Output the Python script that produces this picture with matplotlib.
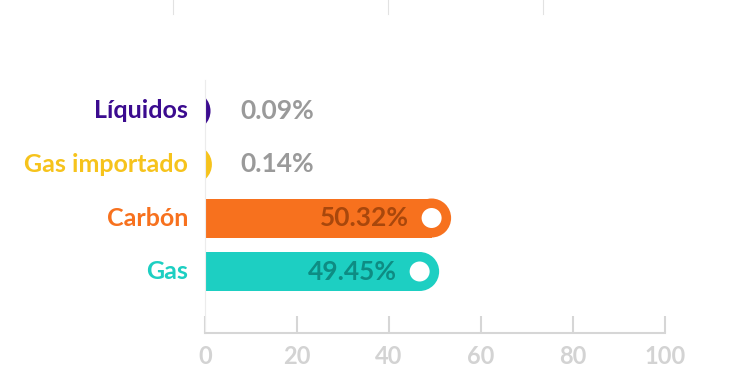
import matplotlib.pyplot as plt
from matplotlib.patches import Ellipse, Rectangle

# Data
categories = ['Líquidos', 'Gas importado', 'Carbón', 'Gas']
shares = [0.09, 0.14, 50.32, 49.45]
# where each rounded bar ends on the 0-100 axis (as drawn)
bar_ends = [1.2, 1.5, 53.5, 50.9]
colors = ['#3b0b8f', '#f6c31c', '#f7711e', '#1dcfc2']
inner_text = ['#9a9a9a', '#9a9a9a', '#a8470c', '#0e8c83']
xticks = [0, 20, 40, 60, 80, 100]

W, H, DPI = 755, 387, 100
X0_PX, X1_PX = 205, 665          # pixel columns of 0 and 100
AX_TOP_PX, AX_BOT_PX = 80, 333   # rows of axes top and baseline
ROW0_PX, ROW_STEP_PX = 111, 53.5
R_PX = 19.5                      # half bar height / cap radius
DOT_R_PX = 10

plt.rcParams['font.family'] = ['Lato', 'DejaVu Sans']

fig = plt.figure(figsize=(W / DPI, H / DPI), dpi=DPI)
ax = fig.add_axes([X0_PX / W, (H - AX_BOT_PX) / H,
                   (X1_PX - X0_PX) / W, (AX_BOT_PX - AX_TOP_PX) / H])

ux = 100 / (X1_PX - X0_PX)       # data units per pixel along x
uy = 1 / ROW_STEP_PX             # data units per pixel along y
ax.set_xlim(0, 100)
ax.set_ylim(3 + (AX_BOT_PX - ROW0_PX - 3 * ROW_STEP_PX) * uy,
            -(ROW0_PX - AX_TOP_PX) * uy)

r_x, r_y = R_PX * ux, R_PX * uy
for i, (cat, share, end) in enumerate(zip(categories, shares, bar_ends)):
    c = end - r_x
    if c > 0:
        ax.add_patch(Rectangle((0, i - r_y), c, 2 * r_y, color=colors[i], lw=0))
    ax.add_patch(Ellipse((c, i), 2 * r_x, 2 * r_y, color=colors[i], lw=0))
    ax.text(-17 * ux, i, cat, ha='right', va='center', fontsize=18,
            fontweight='bold', color=colors[i], clip_on=False)
    label = f'{share:.2f}%'
    if c > 10:
        ax.add_patch(Ellipse((c, i), 2 * DOT_R_PX * ux, 2 * DOT_R_PX * uy,
                             color='white', lw=0))
        ax.annotate(label, (c, i), xytext=(-23 * 0.72, 0),
                    textcoords='offset points', ha='right', va='center',
                    fontsize=19, fontweight='bold', color=inner_text[i])
    else:
        ax.text(35 * ux, i, label, ha='left', va='center', fontsize=19,
                fontweight='bold', color=inner_text[i])

ax.set_xticks(xticks)
ax.set_yticks([])
ax.tick_params(axis='x', direction='in', length=12, width=1.5,
               color='#d6d6d6', labelcolor='#d3d3d3', labelsize=17, pad=9)
for lbl in ax.get_xticklabels():
    lbl.set_fontweight('bold')
for s in ['top', 'right']:
    ax.spines[s].set_visible(False)
ax.spines['bottom'].set_color('#d6d6d6')
ax.spines['bottom'].set_linewidth(1.5)
ax.spines['left'].set_color('#ececec')
ax.spines['left'].set_linewidth(0.8)

# faint separators along the top edge
for xp in [173, 388, 543]:
    fig.add_artist(plt.Line2D([xp / W, xp / W], [1, 1 - 14 / H],
                              color='#e2e2e2', lw=0.8))

fig.savefig('out.png', dpi=DPI)
